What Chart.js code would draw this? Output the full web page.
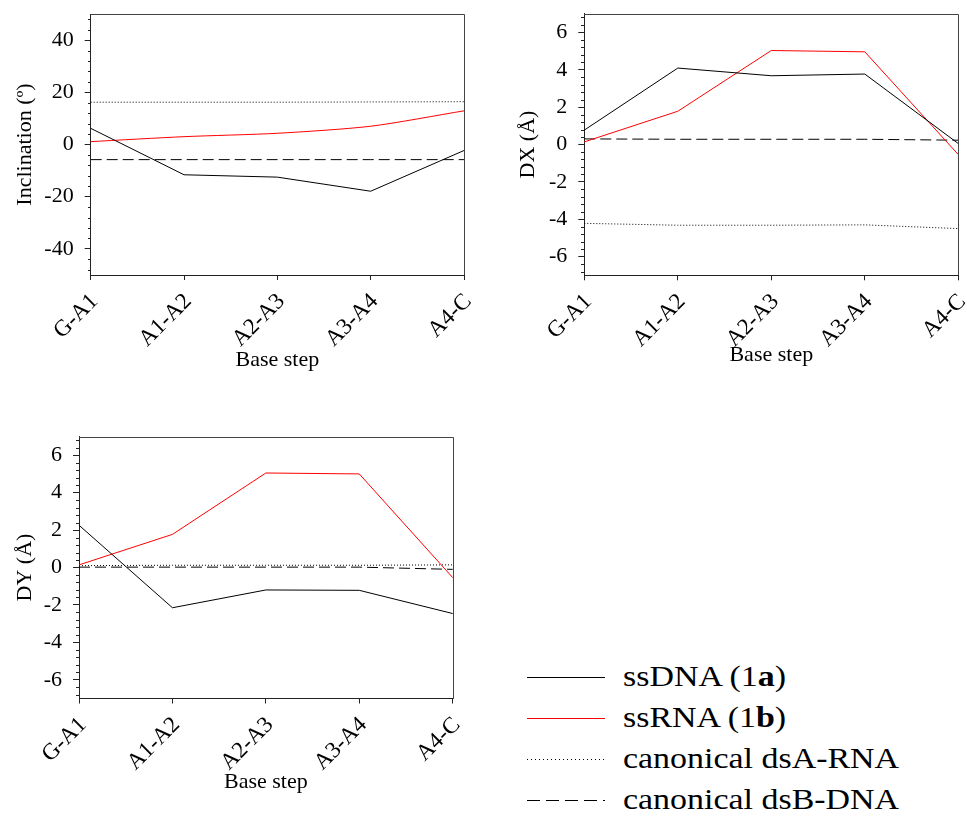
<!DOCTYPE html>
<html>
<head>
<meta charset="utf-8">
<script src="https://cdn.jsdelivr.net/npm/chart.js@4.4.0/dist/chart.umd.min.js"></script>
<style>
  body { margin: 0; background: #fff; width: 967px; height: 816px; position: relative; overflow: hidden;
         font-family: "Liberation Serif", "Times New Roman", serif; }
  canvas.plot { position: absolute; }
  #legend { position: absolute; left: 527px; top: 656px; }
  .row { height: 41px; display: flex; align-items: center; }
  .row canvas { margin-right: 18px; }
  .row span { font-size: 29px; color: #000; white-space: nowrap; display: inline-block;
              transform: scaleX(1.17); transform-origin: left center; }
</style>
</head>
<body>
<canvas class="plot" id="incl" width="480" height="377" style="left:0;top:0"></canvas>
<canvas class="plot" id="dx" width="487" height="372" style="left:480px;top:0"></canvas>
<canvas class="plot" id="dy" width="480" height="379" style="left:0;top:420px"></canvas>
<div id="legend"></div>
<script>
// base steps along the x axis
var steps = ['G-A1', 'A1-A2', 'A2-A3', 'A3-A4', 'A4-C'];

// Inclination (deg)
var inclSsDNA = [6.2, -11.6, -12.5, -17.9, -2.3];
var inclSsRNA = [1.1, 3.0, 4.3, 7.0, 12.9];
var inclARNA  = [16.2, 16.2, 16.2, 16.3, 16.4];
var inclBDNA  = [-5.8, -5.8, -5.8, -5.8, -5.8];

// DX (A)
var dxSsDNA = [0.77, 4.09, 3.68, 3.77, 0.05];
var dxSsRNA = [0.14, 1.78, 5.03, 4.96, -0.54];
var dxARNA  = [-4.22, -4.32, -4.32, -4.30, -4.50];
var dxBDNA  = [0.30, 0.28, 0.28, 0.28, 0.23];

// DY (A)
var dySsDNA = [2.26, -2.15, -1.20, -1.22, -2.46];
var dySsRNA = [0.14, 1.77, 5.05, 5.00, -0.54];
var dyARNA  = [0.10, 0.12, 0.12, 0.12, 0.14];
var dyBDNA  = [0.02, 0.02, 0.02, 0.02, -0.10];

// tick labels
var inclTicks = [-40, -20, 0, 20, 40];
var dTicks = [-6, -4, -2, 0, 2, 4, 6];

var legendLabels = ['ssDNA (1<b>a</b>)', 'ssRNA (1<b>b</b>)', 'canonical dsA-RNA', 'canonical dsB-DNA'];

var FONT = '"Liberation Serif", "Times New Roman", serif';
var styles = [
    { color: '#000', dash: [], legendDash: [] },
    { color: '#ff0000', dash: [], legendDash: [] },
    { color: '#000', dash: [1, 2], legendDash: [1, 3] },
    { color: '#000', dash: [11, 5], legendDash: [13, 6] }
];

// frame on top/right + minor ticks on the y axis
var framePlugin = {
    id: 'frame',
    afterDraw: function(chart, args, opts) {
        var ctx = chart.ctx, a = chart.chartArea, y = chart.scales.y;
        ctx.save();
        ctx.lineWidth = 1;
        ctx.strokeStyle = '#444';
        ctx.beginPath();
        ctx.moveTo(Math.round(a.left), Math.round(a.top) + 0.5);
        ctx.lineTo(Math.round(a.right) + 0.5, Math.round(a.top) + 0.5);
        ctx.lineTo(Math.round(a.right) + 0.5, Math.round(a.bottom));
        ctx.stroke();
        ctx.strokeStyle = '#222';
        var kMin = Math.ceil(y.min / opts.minor - 1e-6), kMax = Math.floor(y.max / opts.minor + 1e-6);
        for (var k = kMin; k <= kMax; k++) {
            if (k % opts.every === 0) continue;
            var py = Math.round(y.getPixelForValue(k * opts.minor)) + 0.5;
            ctx.beginPath();
            ctx.moveTo(Math.round(a.left) - 3, py);
            ctx.lineTo(Math.round(a.left), py);
            ctx.stroke();
        }
        ctx.restore();
    }
};

function makeChart(id, yTitle, series, yMin, yMax, tickVals, minor, every, box, redTension) {
    var canvas = document.getElementById(id);
    var titleOff = 17.2;
    var padLeft = box.yTitleX - titleOff;
    var datasets = series.map(function(d, i) {
        return {
            label: legendLabels[i],
            data: d,
            borderColor: styles[i].color,
            backgroundColor: styles[i].color,
            borderWidth: 1,
            borderDash: styles[i].dash,
            pointRadius: 0,
            tension: i === 1 ? redTension : 0,
            fill: false
        };
    });
    return new Chart(canvas, {
        type: 'line',
        data: { labels: steps, datasets: datasets },
        options: {
            responsive: false,
            animation: false,
            layout: { padding: { left: padLeft, top: box.top, right: canvas.width - box.right, bottom: 0 } },
            plugins: { legend: { display: false }, tooltip: { enabled: false }, frame: { minor: minor, every: every } },
            scales: {
                x: {
                    type: 'category',
                    offset: false,
                    afterFit: function(s) {
                        s.height = canvas.height - box.bottom;
                        s.paddingLeft = 0; s.paddingRight = 0;
                    },
                    grid: { display: true, drawOnChartArea: false, drawTicks: true, tickLength: 5, color: '#222' },
                    border: { display: true, color: '#222', width: 1 },
                    ticks: { autoSkip: false, minRotation: 45, maxRotation: 45, padding: 8, labelOffset: 4,
                             color: '#000', font: { family: FONT, size: 23 } },
                    title: { display: true, text: 'Base step', color: '#000', font: { family: FONT, size: 22 },
                             padding: { top: 4, bottom: 4 } }
                },
                y: {
                    min: yMin,
                    max: yMax,
                    afterFit: function(s) {
                        s.width = box.left - padLeft;
                        s.paddingTop = 0; s.paddingBottom = 0;
                    },
                    afterBuildTicks: function(s) { s.ticks = tickVals.map(function(v) { return { value: v }; }); },
                    grid: { display: true, drawOnChartArea: false, drawTicks: true, tickLength: 6, color: '#222' },
                    border: { display: true, color: '#222', width: 1 },
                    ticks: { padding: 11, color: '#000', font: { family: FONT, size: 22 } },
                    title: { display: true, text: yTitle, color: '#000', font: { family: FONT, size: 22 },
                             padding: { top: 4, bottom: 4 } }
                }
            }
        },
        plugins: [framePlugin]
    });
}

makeChart('incl', 'Inclination (º)', [inclSsDNA, inclSsRNA, inclARNA, inclBDNA], -50, 50, inclTicks, 4, 5,
    { left: 90.7, right: 464, top: 14, bottom: 275, yTitleX: 25 }, 0.25);
makeChart('dx', 'DX (Å)', [dxSsDNA, dxSsRNA, dxARNA, dxBDNA], -7, 7, dTicks, 0.4, 5,
    { left: 104.3, right: 478.3, top: 13.7, bottom: 275.3, yTitleX: 48.3 }, 0);
makeChart('dy', 'DY (Å)', [dySsDNA, dySsRNA, dyARNA, dyBDNA], -7, 7, dTicks, 0.4, 5,
    { left: 79, right: 452.7, top: 16.5, bottom: 278.5, yTitleX: 25 }, 0);

// legend
var legend = document.getElementById('legend');
legendLabels.forEach(function(text, i) {
    var row = document.createElement('div');
    row.className = 'row';
    var c = document.createElement('canvas');
    c.width = 78; c.height = 6;
    var g = c.getContext('2d');
    g.strokeStyle = styles[i].color;
    g.lineWidth = 1;
    g.setLineDash(styles[i].legendDash);
    g.beginPath(); g.moveTo(0, 3.5); g.lineTo(78, 3.5); g.stroke();
    var span = document.createElement('span');
    span.innerHTML = text;
    row.appendChild(c);
    row.appendChild(span);
    legend.appendChild(row);
});
</script>
</body>
</html>
